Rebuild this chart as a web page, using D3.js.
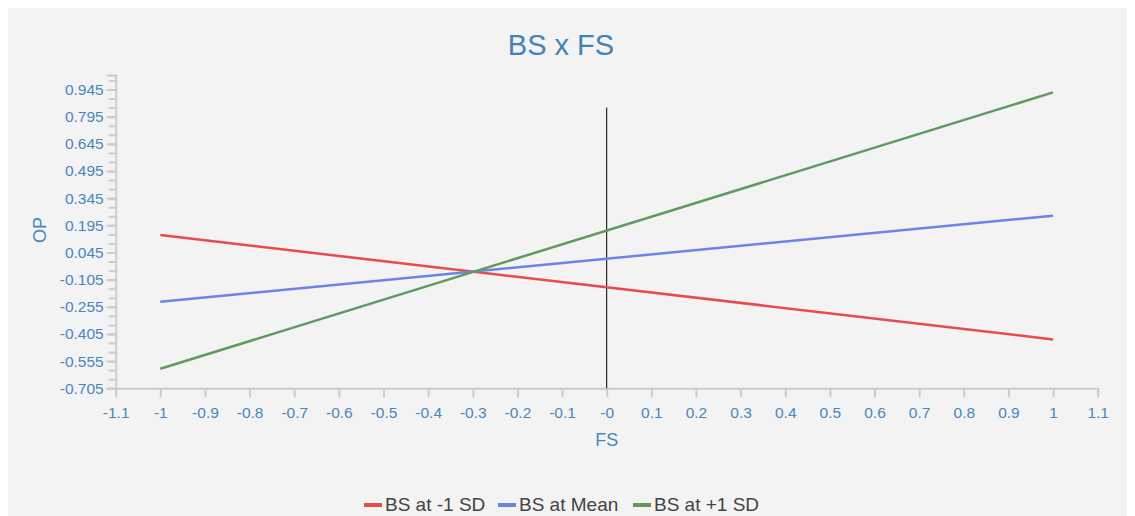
<!DOCTYPE html>
<meta charset="utf-8" />
<script src="https://d3js.org/d3.v7.min.js"></script>
<style>
  body { margin: 0; background: #fff; }
  #chart { position: absolute; left: 8px; top: 8px; width: 1119px; height: 508px; background: #f3f3f3; }
  svg { position: absolute; left: 0; top: 0; }
</style>
<div id="chart"></div>
<script>
// data
var xValues = [-1, 1];
var seriesNames = ["BS at -1 SD", "BS at Mean", "BS at +1 SD"];
var redValues = [0.141, -0.435];
var blueValues = [-0.227, 0.248];
var greenValues = [-0.597, 0.929];
var colors = ["#e84b4b", "#6c84e6", "#61995f"];
var xTicks = [-1.1, -1, -0.9, -0.8, -0.7, -0.6, -0.5, -0.4, -0.3, -0.2, -0.1, 0, 0.1, 0.2, 0.3, 0.4, 0.5, 0.6, 0.7, 0.8, 0.9, 1, 1.1];
var xTickLabels = ["-1.1", "-1", "-0.9", "-0.8", "-0.7", "-0.6", "-0.5", "-0.4", "-0.3", "-0.2", "-0.1", "-0", "0.1", "0.2", "0.3", "0.4", "0.5", "0.6", "0.7", "0.8", "0.9", "1", "1.1"];
var yTicks = [-0.705, -0.555, -0.405, -0.255, -0.105, 0.045, 0.195, 0.345, 0.495, 0.645, 0.795, 0.945];
var yTickLabels = ["-0.705", "-0.555", "-0.405", "-0.255", "-0.105", "0.045", "0.195", "0.345", "0.495", "0.645", "0.795", "0.945"];
var zeroLine = [-0.705, 0.845];

var W = 1135, H = 516;
var margin = { top: 75, left: 115.7, right: 37.3, bottom: 127.7 };
var width = W - margin.left - margin.right,
    height = H - margin.top - margin.bottom;

var font = "'Liberation Sans', Arial, sans-serif";

var svg = d3.select("body").append("svg")
  .attr("width", W).attr("height", H);
var g = svg.append("g")
  .attr("transform", "translate(" + margin.left + "," + margin.top + ")");

var x = d3.scaleLinear().domain([-1.1, 1.1]).range([0, width]);
var y = d3.scaleLinear().domain([-0.705, 1.025]).range([height, 0]);

var labelColor = "#4a86be";
var axisColor = "#cccccc";

// X axis
g.append("g")
  .attr("transform", "translate(0," + height + ")")
  .call(d3.axisBottom(x).tickValues(xTicks).tickSize(9).tickPadding(10)
    .tickFormat(function (d, i) { return xTickLabels[i]; }));

// Y axis minor ticks (every 0.05)
var minor = d3.range(0, 35).map(function (i) { return -0.705 + i * 0.05; });
g.append("g").call(d3.axisLeft(y).tickValues(minor).tickSize(7).tickFormat(""))
  .select(".domain").remove();

// Y axis
g.append("g")
  .call(d3.axisLeft(y).tickValues(yTicks).tickSize(9).tickPadding(3)
    .tickFormat(function (d, i) { return yTickLabels[i]; }));

g.selectAll(".domain").attr("stroke", axisColor).attr("stroke-width", 2);
g.selectAll(".tick line").attr("stroke", axisColor).attr("stroke-width", 2);
g.selectAll(".tick text")
  .attr("fill", labelColor)
  .style("font-family", font)
  .style("font-size", "15.5px");

// vertical line at x = 0
g.append("line")
  .attr("x1", x(0)).attr("x2", x(0))
  .attr("y1", y(zeroLine[0])).attr("y2", y(zeroLine[1]))
  .attr("stroke", "#000").attr("stroke-width", 1);

// lines
var allSeries = [redValues, blueValues, greenValues];
var line = d3.line()
  .x(function (d, i) { return x(xValues[i]); })
  .y(function (d) { return y(d); });

g.selectAll(".series")
  .data(allSeries)
  .enter()
  .append("path")
  .attr("class", "series")
  .attr("fill", "none")
  .attr("stroke", function (d, i) { return colors[i]; })
  .attr("stroke-width", 2.5)
  .attr("d", line);

// title
svg.append("text")
  .attr("x", 561).attr("y", 55)
  .attr("text-anchor", "middle")
  .attr("fill", "#4682b4")
  .style("font-family", font)
  .style("font-size", "29px")
  .text("BS x FS");

// axis titles
svg.append("text")
  .attr("transform", "translate(46,230) rotate(-90)")
  .attr("text-anchor", "middle")
  .attr("fill", labelColor)
  .style("font-family", font)
  .style("font-size", "18px")
  .text("OP");

svg.append("text")
  .attr("x", x(0) + margin.left).attr("y", 446)
  .attr("text-anchor", "middle")
  .attr("fill", labelColor)
  .style("font-family", font)
  .style("font-size", "18px")
  .text("FS");

// legend
var legendX = [364, 498, 633];
var legend = svg.append("g");
seriesNames.forEach(function (name, i) {
  legend.append("rect")
    .attr("x", legendX[i]).attr("y", 503)
    .attr("width", 18).attr("height", 4)
    .attr("fill", colors[i]);
  legend.append("text")
    .attr("x", legendX[i] + 21).attr("y", 511)
    .attr("fill", "#444")
    .style("font-family", font)
    .style("font-size", "19px")
    .text(name);
});
</script>
